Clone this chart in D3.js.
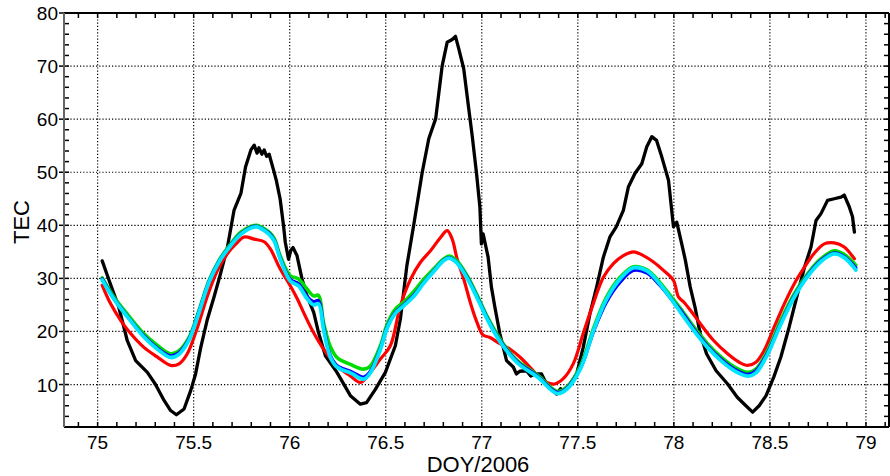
<!DOCTYPE html>
<html>
<head>
<meta charset="utf-8">
<script src="https://cdn.jsdelivr.net/npm/d3@7"></script>
<style>
  body { margin: 0; background: #fff; }
  text { font-family: "Liberation Sans", Arial, sans-serif; }
</style>
</head>
<body>
<div id="container"></div>
<script>
/* CONSTANTS AND GLOBALS */
const width = 890,
  height = 476,
  margin = { top: 13, bottom: 49, left: 64, right: 1 }

const xMajor = [75, 75.5, 76, 76.5, 77, 77.5, 78, 78.5, 79]
const yMajor = [10, 20, 30, 40, 50, 60, 70, 80]

/* DATA: [DOY, TEC] */
const black = [
  [75.024, 33.3], [75.06, 29.6], [75.11, 24.6], [75.137, 20.8], [75.154, 18.3], [75.198, 14.5],
  [75.259, 12.3], [75.30, 10.1], [75.346, 7.0], [75.38, 5.1], [75.41, 4.3], [75.45, 5.4],
  [75.485, 8.9], [75.51, 12.0], [75.537, 17.0], [75.57, 22.1], [75.606, 26.5], [75.64, 30.9],
  [75.676, 35.9], [75.71, 42.8], [75.746, 46.0], [75.77, 51.0], [75.798, 54.2], [75.815, 55.1],
  [75.83, 53.6], [75.84, 54.6], [75.855, 53.4], [75.867, 54.2], [75.88, 53.0], [75.893, 53.4],
  [75.916, 50.4], [75.93, 48.5], [75.95, 45.0], [75.968, 39.9], [75.977, 36.8], [75.994, 33.6],
  [76.005, 35.2], [76.017, 35.8], [76.038, 34.3], [76.064, 29.9], [76.09, 26.7], [76.125, 23.6],
  [76.15, 19.8], [76.186, 15.4], [76.246, 12.3], [76.316, 7.9], [76.368, 6.3], [76.40, 6.6],
  [76.446, 9.1], [76.498, 12.3], [76.55, 17.3], [76.576, 22.3], [76.61, 32.4], [76.645, 39.9],
  [76.69, 50.0], [76.724, 56.3], [76.76, 60.1], [76.794, 70.1], [76.82, 74.5], [76.846, 75.0],
  [76.863, 75.6], [76.88, 73.3], [76.906, 69.5], [76.932, 62.0], [76.95, 56.9], [76.972, 50.0],
  [76.99, 43.5], [76.998, 36.5], [77.007, 38.4], [77.033, 34.0], [77.05, 28.4], [77.068, 24.6],
  [77.094, 19.6], [77.129, 14.5], [77.164, 13.3], [77.18, 12.0], [77.198, 12.5], [77.233, 12.6],
  [77.255, 11.6], [77.276, 12.0], [77.311, 12.0], [77.346, 9.5], [77.37, 9.0], [77.39, 8.2],
  [77.41, 9.2], [77.424, 8.9], [77.459, 10.1], [77.494, 12.0], [77.528, 17.0], [77.563, 23.3],
  [77.598, 28.4], [77.633, 34.0], [77.667, 37.8], [77.70, 39.7], [77.737, 42.8], [77.763, 47.2],
  [77.798, 49.8], [77.833, 51.6], [77.859, 54.8], [77.885, 56.7], [77.91, 56.0], [77.937, 52.9],
  [77.972, 48.5], [77.998, 39.7], [78.015, 40.6], [78.041, 36.5], [78.06, 33.4], [78.085, 28.4],
  [78.11, 24.6], [78.137, 19.6], [78.17, 15.8], [78.22, 12.6], [78.28, 10.1], [78.33, 7.6],
  [78.375, 6.0], [78.41, 4.8], [78.444, 6.0], [78.48, 7.9], [78.52, 11.4], [78.557, 15.2],
  [78.60, 20.8], [78.644, 27.1], [78.68, 32.1], [78.714, 35.9], [78.74, 40.9], [78.766, 42.2],
  [78.80, 44.7], [78.835, 45.0], [78.87, 45.3], [78.887, 45.7], [78.913, 43.5], [78.93, 41.6],
  [78.94, 38.7]
]

const red = [
  [75.024, 28.7], [75.068, 25.2], [75.12, 22.1], [75.172, 19.6], [75.241, 17.0], [75.31, 15.2],
  [75.38, 13.6], [75.424, 13.9], [75.467, 15.8], [75.52, 20.8], [75.57, 26.5], [75.624, 31.5],
  [75.676, 34.7], [75.72, 36.5], [75.763, 37.8], [75.815, 37.4], [75.867, 36.9], [75.90, 35.5],
  [75.95, 31.8], [76.003, 28.6], [76.04, 26.1], [76.072, 23.6], [76.124, 19.8], [76.176, 16.7],
  [76.246, 13.5], [76.316, 11.6], [76.368, 10.4], [76.42, 12.3], [76.472, 14.8], [76.524, 17.3],
  [76.576, 24.8], [76.63, 29.9], [76.68, 33.0], [76.733, 35.2], [76.785, 37.7], [76.82, 39.0],
  [76.846, 37.4], [76.872, 33.6], [76.906, 29.9], [76.94, 25.5], [76.972, 22.0], [77.007, 19.3],
  [77.04, 18.9], [77.094, 17.7], [77.146, 16.7], [77.198, 15.2], [77.25, 13.3], [77.30, 11.4],
  [77.346, 10.3], [77.38, 10.1], [77.424, 11.1], [77.476, 13.9], [77.528, 19.6], [77.58, 25.2],
  [77.633, 30.2], [77.685, 32.8], [77.737, 34.3], [77.79, 35.0], [77.841, 34.3], [77.894, 33.1],
  [77.946, 31.5], [77.998, 29.6], [78.024, 26.5], [78.05, 25.6], [78.086, 24.0], [78.137, 21.5],
  [78.207, 18.3], [78.28, 15.8], [78.34, 14.2], [78.384, 13.6], [78.427, 14.2], [78.47, 16.4],
  [78.522, 20.8], [78.575, 25.2], [78.627, 29.0], [78.68, 32.1], [78.73, 34.7], [78.783, 36.5],
  [78.835, 36.7], [78.887, 35.9], [78.94, 33.7]
]

const green = [
  [75.024, 30.1], [75.085, 26.5], [75.154, 23.3], [75.24, 19.6], [75.31, 17.4], [75.38, 15.8],
  [75.424, 16.4], [75.476, 18.9], [75.528, 24.0], [75.58, 29.6], [75.632, 33.4], [75.693, 36.5],
  [75.745, 38.7], [75.798, 39.8], [75.83, 40.0], [75.85, 39.7], [75.893, 38.7], [75.92, 37.5],
  [75.95, 34.3], [76.003, 30.5], [76.046, 29.9], [76.09, 28.0], [76.124, 26.7], [76.15, 26.8],
  [76.176, 21.7], [76.21, 17.3], [76.246, 15.1], [76.316, 13.8], [76.385, 12.9], [76.42, 13.5],
  [76.472, 17.3], [76.507, 21.3], [76.55, 24.2], [76.593, 25.5], [76.645, 27.5], [76.70, 29.9],
  [76.75, 31.8], [76.80, 33.6], [76.83, 34.2], [76.87, 33.3], [76.924, 30.5], [76.976, 26.8],
  [77.03, 22.7], [77.10, 18.3], [77.185, 14.5], [77.29, 11.8], [77.393, 8.7], [77.445, 9.6],
  [77.515, 13.6], [77.584, 20.8], [77.65, 26.5], [77.72, 30.2], [77.79, 32.2], [77.86, 31.6],
  [77.93, 29.1], [77.998, 26.0], [78.035, 24.3], [78.105, 20.8], [78.175, 17.7], [78.245, 15.2],
  [78.315, 13.3], [78.384, 12.3], [78.427, 12.9], [78.488, 16.4], [78.557, 22.1], [78.627, 27.1],
  [78.697, 30.9], [78.766, 33.7], [78.835, 35.2], [78.887, 34.5], [78.947, 32.5]
]

const blue = [
  [75.024, 29.9], [75.085, 26.2], [75.154, 22.9], [75.24, 19.2], [75.31, 16.9], [75.38, 15.4],
  [75.424, 16.0], [75.476, 18.6], [75.528, 23.8], [75.58, 29.4], [75.632, 33.2], [75.693, 36.3],
  [75.745, 38.4], [75.798, 39.6], [75.83, 39.8], [75.85, 39.5], [75.893, 38.5], [75.92, 37.2],
  [75.95, 33.9], [76.003, 29.8], [76.046, 29.0], [76.09, 26.6], [76.124, 25.6], [76.15, 25.8],
  [76.176, 21.0], [76.21, 15.6], [76.246, 13.6], [76.316, 12.5], [76.385, 11.4], [76.42, 12.5],
  [76.472, 16.8], [76.507, 20.8], [76.55, 23.6], [76.593, 25.0], [76.645, 26.8], [76.70, 29.3],
  [76.75, 31.4], [76.80, 33.4], [76.83, 33.9], [76.87, 33.0], [76.924, 30.2], [76.976, 26.5],
  [77.03, 22.4], [77.10, 18.0], [77.185, 14.3], [77.29, 11.6], [77.393, 8.5], [77.445, 9.4],
  [77.515, 13.2], [77.584, 20.2], [77.65, 25.6], [77.72, 29.3], [77.79, 31.5], [77.86, 31.0],
  [77.93, 28.6], [77.998, 25.6], [78.035, 24.0], [78.105, 20.4], [78.175, 17.3], [78.245, 14.8],
  [78.315, 12.9], [78.384, 11.9], [78.427, 12.6], [78.488, 16.0], [78.557, 21.6], [78.627, 26.7],
  [78.697, 30.6], [78.766, 33.4], [78.835, 34.8], [78.887, 34.1], [78.947, 32.0]
]

const cyan = [
  [75.024, 29.7], [75.085, 26.1], [75.154, 22.8], [75.24, 19.0], [75.31, 16.7], [75.38, 15.1],
  [75.424, 15.7], [75.476, 18.4], [75.528, 23.6], [75.58, 29.3], [75.632, 33.1], [75.693, 36.2],
  [75.745, 38.3], [75.798, 39.5], [75.83, 39.7], [75.85, 39.4], [75.893, 38.3], [75.92, 37.0],
  [75.95, 33.7], [76.003, 29.5], [76.046, 28.6], [76.09, 26.2], [76.124, 25.0], [76.15, 25.2],
  [76.176, 20.5], [76.21, 15.3], [76.246, 13.3], [76.316, 12.2], [76.385, 11.0], [76.42, 12.2],
  [76.472, 16.6], [76.507, 20.6], [76.55, 23.4], [76.593, 24.8], [76.645, 26.6], [76.70, 29.2],
  [76.75, 31.3], [76.80, 33.3], [76.83, 33.8], [76.87, 32.9], [76.924, 30.0], [76.976, 26.3],
  [77.03, 22.2], [77.10, 17.8], [77.185, 14.1], [77.29, 11.4], [77.393, 8.3], [77.445, 9.2],
  [77.515, 13.1], [77.584, 20.4], [77.65, 26.1], [77.72, 29.9], [77.79, 32.0], [77.86, 31.4],
  [77.93, 28.8], [77.998, 25.5], [78.035, 23.6], [78.105, 20.1], [78.175, 17.0], [78.245, 14.5],
  [78.315, 12.6], [78.384, 11.6], [78.427, 12.2], [78.488, 15.7], [78.557, 21.4], [78.627, 26.5],
  [78.697, 30.4], [78.766, 33.2], [78.835, 34.6], [78.887, 33.9], [78.947, 31.6]
]

// SCALES
const xScale = d3.scaleLinear()
  .domain([74.825, 79.12])
  .range([margin.left, width - margin.right])

const yScale = d3.scaleLinear()
  .domain([2, 80])
  .range([height - margin.bottom, margin.top])

// CREATE SVG ELEMENT
const svg = d3.select("#container")
  .append("svg")
  .attr("width", width)
  .attr("height", height)

const x0 = margin.left, x1 = width - margin.right
const y0 = height - margin.bottom, y1 = margin.top

// GRID
svg.append("g")
  .selectAll("line")
  .data(xMajor)
  .join("line")
  .attr("x1", d => xScale(d)).attr("x2", d => xScale(d))
  .attr("y1", y0).attr("y2", y1)
  .attr("stroke", "#000").attr("stroke-width", 1.2)
  .attr("stroke-dasharray", "1.2,2")

svg.append("g")
  .selectAll("line")
  .data(yMajor.filter(d => d < 80))
  .join("line")
  .attr("x1", x0).attr("x2", x1)
  .attr("y1", d => yScale(d)).attr("y2", d => yScale(d))
  .attr("stroke", "#000").attr("stroke-width", 1.2)
  .attr("stroke-dasharray", "1.2,2")

// MINOR TICKS (inward)
const xMinor = d3.range(749, 792).map(d => d / 10)
const yMinor = d3.range(2, 81, 2)

const ticks = svg.append("g").attr("stroke", "#000").attr("stroke-width", 1.5)
ticks.selectAll(".xb").data(xMinor).join("line")
  .attr("x1", d => xScale(d)).attr("x2", d => xScale(d))
  .attr("y1", y0).attr("y2", y0 - 5)
ticks.selectAll(".xt").data(xMinor).join("line")
  .attr("x1", d => xScale(d)).attr("x2", d => xScale(d))
  .attr("y1", y1).attr("y2", y1 + 5)
ticks.selectAll(".yl").data(yMinor).join("line")
  .attr("x1", x0).attr("x2", x0 + 5)
  .attr("y1", d => yScale(d)).attr("y2", d => yScale(d))
ticks.selectAll(".yr").data(yMinor).join("line")
  .attr("x1", x1).attr("x2", x1 - 5)
  .attr("y1", d => yScale(d)).attr("y2", d => yScale(d))
// major ticks on left axis point outward
ticks.selectAll(".ym").data(yMajor).join("line")
  .attr("x1", x0).attr("x2", x0 - 5)
  .attr("y1", d => yScale(d)).attr("y2", d => yScale(d))

// LINE GENERATOR FUNCTIONS
const lineGen = d3.line()
  .x(d => xScale(d[0]))
  .y(d => yScale(d[1]))

const smoothGen = d3.line()
  .x(d => xScale(d[0]))
  .y(d => yScale(d[1]))
  .curve(d3.curveCatmullRom.alpha(0.5))

// DRAW LINES
const series = [
  { data: black, color: "#000000", w: 3.3, gen: lineGen },
  { data: red, color: "#ff0000", w: 3.2, gen: smoothGen },
  { data: green, color: "#00dd00", w: 3.6, gen: smoothGen },
  { data: blue, color: "#0000ff", w: 3.4, gen: smoothGen },
  { data: cyan, color: "#00e5ff", w: 3.8, gen: smoothGen }
]
series.forEach(s => {
  svg.append("path")
    .datum(s.data)
    .attr("d", s.gen)
    .attr("fill", "none")
    .attr("stroke", s.color)
    .attr("stroke-width", s.w)
    .attr("stroke-linejoin", "round")
    .attr("stroke-linecap", "round")
})

// AXES LINES
svg.append("line").attr("x1", x0).attr("x2", x1).attr("y1", y0).attr("y2", y0)
  .attr("stroke", "#000").attr("stroke-width", 2)
svg.append("line").attr("x1", x0).attr("x2", x1).attr("y1", y1).attr("y2", y1)
  .attr("stroke", "#000").attr("stroke-width", 2)
svg.append("line").attr("x1", x0).attr("x2", x0).attr("y1", y0).attr("y2", y1)
  .attr("stroke", "#666").attr("stroke-width", 2)
svg.append("line").attr("x1", x1).attr("x2", x1).attr("y1", y0).attr("y2", y1)
  .attr("stroke", "#000").attr("stroke-width", 2)

// TICK LABELS
svg.append("g")
  .selectAll("text")
  .data(xMajor)
  .join("text")
  .attr("x", d => xScale(d))
  .attr("y", 449)
  .attr("text-anchor", "middle")
  .style("font-size", "19px")
  .text(d => d)

svg.append("g")
  .selectAll("text")
  .data(yMajor)
  .join("text")
  .attr("x", 58)
  .attr("y", d => yScale(d) + 7)
  .attr("text-anchor", "end")
  .style("font-size", "19px")
  .text(d => d)

//AXES LABELS
svg.append("text")
  .attr("text-anchor", "middle")
  .attr("x", 478)
  .attr("y", 472)
  .style("font-size", "22px")
  .text("DOY/2006")

svg.append("text")
  .attr("text-anchor", "middle")
  .attr("transform", "translate(29, 222) rotate(-90)")
  .style("font-size", "22px")
  .text("TEC")
</script>
</body>
</html>
